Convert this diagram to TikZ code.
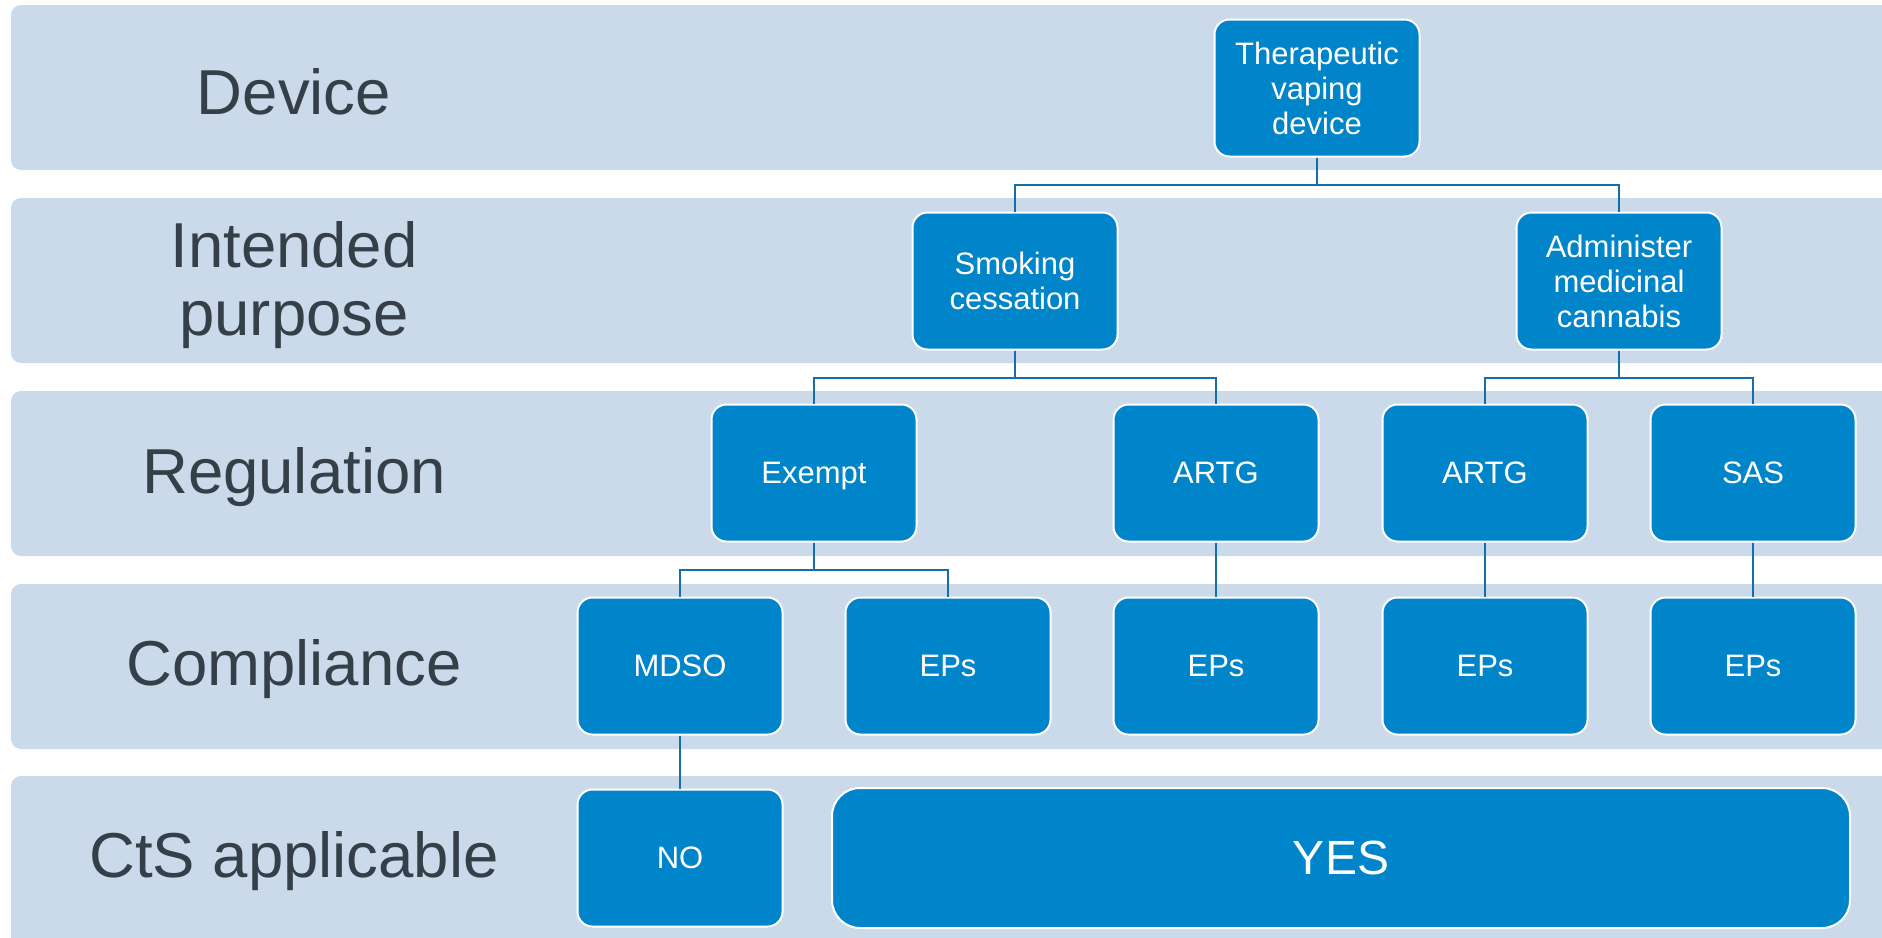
\documentclass[tikz,border=0pt]{standalone}
\usepackage{fontspec}
\setmainfont{Liberation Sans}
\definecolor{band}{RGB}{203,218,235}
\definecolor{boxblue}{RGB}{0,133,202}
\definecolor{linkblue}{RGB}{20,110,168}
\definecolor{labelgray}{RGB}{52,63,72}
\tikzset{
  bandrect/.style={fill=band, draw=none, rounded corners=10pt},
  bandlabel/.style={text=labelgray, align=center, font=\fontsize{63.5}{68}\selectfont},
  orgbox/.style={rectangle, rounded corners=15pt, fill=boxblue, draw=white, line width=2pt,
    text=white, align=center, minimum width=205pt, minimum height=137pt, inner sep=0pt,
    font=\fontsize{31}{35}\selectfont},
  link/.style={draw=linkblue, line width=2.6pt}
}
\begin{document}
\begin{tikzpicture}[x=1pt,y=-1pt]
\useasboundingbox (0,0) rectangle (1882,937);
\clip (0,0) rectangle (1882,937);
\fill[white] (0,0) rectangle (1882,937);
% bands
\path[bandrect] (11,5) rectangle (1900,170);
\path[bandrect] (11,198) rectangle (1900,363);
\path[bandrect] (11,391) rectangle (1900,556);
\path[bandrect] (11,584) rectangle (1900,749);
\path[bandrect] (11,776) rectangle (1900,960);
% band labels
\node[bandlabel] (lDevice) at (294,92) {Device};
\node[bandlabel] (lPurpose) at (294,285) {Intended\\purpose};
\node[bandlabel] (lReg) at (294,477) {Regulation};
\node[bandlabel] (lComp) at (294,669) {Compliance};
\node[bandlabel] (lCtS) at (294,861) {CtS applicable};
% boxes
\node[orgbox] (tvd) at (1317,88) {Therapeutic\\vaping\\device};
\node[orgbox] (sc) at (1015,281) {Smoking\\cessation};
\node[orgbox] (amc) at (1619,281) {Administer\\medicinal\\cannabis};
\node[orgbox, text depth=0pt] (ex) at (814,473) {Exempt};
\node[orgbox] (artgA) at (1216,473) {ARTG};
\node[orgbox] (artgB) at (1485,473) {ARTG};
\node[orgbox] (sas) at (1753,473) {SAS};
\node[orgbox] (mdso) at (680,666) {MDSO};
\node[orgbox] (epsA) at (948,666) {EPs};
\node[orgbox] (epsB) at (1216,666) {EPs};
\node[orgbox] (epsC) at (1485,666) {EPs};
\node[orgbox] (epsD) at (1753,666) {EPs};
\node[orgbox] (no) at (680,858) {NO};
\node[orgbox, minimum width=1018pt, minimum height=140pt, rounded corners=28pt,
      font=\fontsize{48}{52}\selectfont] (yes) at (1341,858) {YES};
% connectors
\draw[link] (tvd.south) -- ++(0,27.5) -| (sc.north);
\draw[link] (tvd.south) -- ++(0,27.5) -| (amc.north);
\draw[link] (sc.south) -- ++(0,27.5) -| (ex.north);
\draw[link] (sc.south) -- ++(0,27.5) -| (artgA.north);
\draw[link] (amc.south) -- ++(0,27.5) -| (artgB.north);
\draw[link] (amc.south) -- ++(0,27.5) -| (sas.north);
\draw[link] (ex.south) -- ++(0,27.5) -| (mdso.north);
\draw[link] (ex.south) -- ++(0,27.5) -| (epsA.north);
\draw[link] (artgA.south) -- (epsB.north);
\draw[link] (artgB.south) -- (epsC.north);
\draw[link] (sas.south) -- (epsD.north);
\draw[link] (mdso.south) -- (no.north);
\end{tikzpicture}
\end{document}
